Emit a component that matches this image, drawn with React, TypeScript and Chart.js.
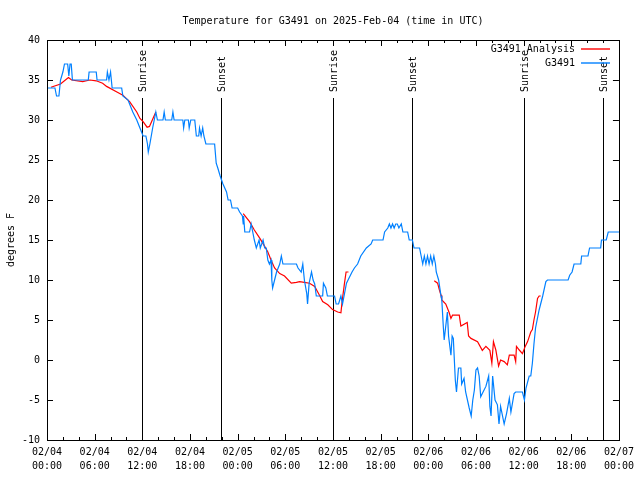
import { useEffect, useRef } from 'react';
import { Chart, registerables } from 'chart.js';

Chart.register(...registerables);

// Hours since 2025-02-04 00:00 UTC, temperature in degrees F
const stationSeries: [number, number][] = [
  [0, 34], [1.0, 34], [1.2, 33], [1.5, 33], [1.7, 35], [2.0, 36], [2.2, 37], [2.6, 37], [2.75, 35.5], [2.9, 37],
  [3.05, 37], [3.2, 35], [5.2, 35], [5.3, 36], [6.2, 36], [6.3, 35], [7.5, 35], [7.6, 36], [7.8, 35], [8.0, 36],
  [8.2, 34], [9.4, 34], [9.55, 33], [10.2, 32.5], [10.8, 31], [11.3, 30], [11.7, 29], [12.1, 28], [12.45, 28],
  [12.65, 27], [12.75, 26], [12.95, 27], [13.3, 29], [13.7, 31], [13.9, 30], [14.6, 30], [14.75, 31], [14.9, 30],
  [15.7, 30], [15.85, 31], [16.0, 30], [17.1, 30], [17.2, 29], [17.35, 30], [17.8, 30], [17.9, 29], [18.1, 30],
  [18.6, 30], [18.8, 28], [19.1, 28], [19.2, 29], [19.4, 28], [19.6, 29], [19.75, 28], [20.0, 27], [21.1, 27],
  [21.3, 24.6], [21.5, 24], [21.8, 23], [22.15, 22], [22.6, 21], [22.8, 20], [23.1, 20], [23.3, 19], [24.0, 19],
  [24.25, 18.5], [24.6, 18], [24.7, 17], [24.75, 18], [24.9, 16], [25.5, 16], [25.7, 17], [25.9, 16], [26.1, 15],
  [26.35, 14], [26.7, 15], [26.85, 14], [27.2, 15], [27.4, 14], [27.6, 14], [27.8, 12.5], [28.0, 12], [28.2, 12.5],
  [28.3, 10], [28.4, 9], [28.65, 10], [28.9, 11], [29.3, 12], [29.5, 13], [29.7, 12], [31.4, 12], [31.6, 11.5],
  [32.0, 11], [32.2, 12], [32.4, 10], [32.7, 8.3], [32.8, 7], [33.0, 9.6], [33.3, 11], [33.5, 10], [33.7, 9.5],
  [33.9, 8], [34.7, 8], [34.8, 9.6], [35.1, 9], [35.3, 8], [36.2, 8], [36.4, 7], [36.7, 7], [37.0, 8], [37.2, 7],
  [37.7, 9.6], [37.9, 10], [38.4, 11], [38.7, 11.5], [39.1, 12], [39.5, 13], [40.2, 14], [40.8, 14.5], [41.0, 15],
  [42.3, 15], [42.5, 16], [42.9, 16.5], [43.1, 17], [43.3, 16.5], [43.5, 17], [43.7, 16.5], [43.9, 17], [44.1, 17],
  [44.3, 16.5], [44.6, 17], [44.8, 16], [45.4, 16], [45.6, 15], [46.0, 15], [46.2, 14], [46.9, 14], [47.1, 13],
  [47.3, 12], [47.5, 13], [47.7, 12], [47.9, 13], [48.1, 12], [48.3, 13], [48.5, 12], [48.7, 13], [48.9, 12],
  [49.0, 11], [49.3, 10], [49.6, 8], [49.7, 7.5], [49.9, 4], [50.0, 2.5], [50.4, 6], [50.55, 3], [50.85, 0.6],
  [51.0, 3], [51.15, 2.7], [51.4, -2.5], [51.55, -4], [51.8, -1], [52.1, -1], [52.2, -3], [52.5, -2.3], [52.7, -4],
  [53.15, -6], [53.4, -7], [53.6, -5], [53.8, -3.75], [54.0, -1.25], [54.2, -1], [54.4, -2], [54.6, -4.6],
  [54.8, -4.2], [55.25, -3.3], [55.6, -2], [55.75, -5.8], [55.9, -7], [56.1, -2], [56.4, -5], [56.7, -5.6],
  [56.9, -8], [57.1, -5.8], [57.55, -8], [57.85, -6.7], [58.2, -4.8], [58.4, -6.5], [58.8, -4.2], [59.0, -4],
  [59.85, -4], [60.1, -5], [60.3, -3.5], [60.7, -2], [60.9, -2], [61.1, -0.4], [61.3, 2], [61.5, 4], [61.95, 6.25],
  [62.4, 8], [62.8, 9.8], [63.0, 10], [65.6, 10], [65.8, 10.6], [66.1, 11], [66.35, 12], [67.2, 12], [67.3, 13],
  [68.1, 13], [68.3, 14], [69.7, 14], [69.8, 15], [70.4, 15], [70.65, 16], [72, 16],
];

// null separates the three analysis segments
const analysisSeries: ([number, number] | null)[] = [
  [0.5, 34.1], [1.7, 34.5], [2.7, 35.3], [3.1, 35], [4.5, 34.8], [5.4, 35], [6.2, 34.9], [7.0, 34.6], [7.5, 34.2],
  [8.8, 33.5], [9.55, 33.1], [10.4, 32.3], [11.3, 31], [11.7, 30.2], [12.1, 29.8], [12.6, 29.1], [12.9, 29.2],
  [13.7, 31],
  null,
  [24.7, 18.3], [25.5, 17.3], [26.1, 16.25], [26.8, 15.2], [27.4, 14.2], [27.8, 13.5], [28.2, 12.5], [28.65, 11.5],
  [29.3, 10.8], [29.9, 10.5], [30.75, 9.6], [31.4, 9.7], [31.8, 9.8], [32.4, 9.7], [33.05, 9.6], [33.7, 9.2],
  [34.3, 8.1], [34.7, 7.3], [35.35, 6.9], [35.95, 6.3], [36.6, 6.0], [37.0, 5.9], [37.15, 7.3], [37.45, 9.6],
  [37.65, 11], [37.95, 11],
  null,
  [48.75, 9.9], [49.17, 9.6], [49.4, 8.75], [49.6, 8.1], [49.7, 7.5], [50.2, 7.0], [50.6, 6.0], [50.85, 5.2],
  [51.05, 5.6], [51.9, 5.6], [52.1, 4.25], [52.9, 4.7], [53.07, 3.0], [53.37, 2.7], [54.2, 2.3], [54.8, 1.2],
  [55.25, 1.7], [55.75, 1.2], [56.0, -0.4], [56.2, 2.3], [56.5, 1.25], [56.85, -0.75], [57.1, 0], [57.55, -0.2],
  [57.95, -0.6], [58.2, 0.6], [58.8, 0.6], [59.0, -0.2], [59.1, 1.7], [59.45, 1.25], [59.85, 0.8], [60.2, 1.7],
  [60.5, 2.3], [60.9, 3.5], [61.1, 3.8], [61.3, 5], [61.5, 6], [61.75, 7.7], [61.95, 8], [62.15, 8],
];

const sunriseHours = [11.95, 35.95, 60.0];
const sunsetHours = [21.9, 45.95, 70.0];

const xTickDates = ['02/04', '02/04', '02/04', '02/04', '02/05', '02/05', '02/05', '02/05', '02/06', '02/06', '02/06', '02/06', '02/07'];
const xTickTimes = ['00:00', '06:00', '12:00', '18:00', '00:00', '06:00', '12:00', '18:00', '00:00', '06:00', '12:00', '18:00', '00:00'];

const TITLE = 'Temperature for G3491 on 2025-Feb-04 (time in UTC)';
const Y_TITLE = 'degrees F';
const ANALYSIS_LABEL = 'G3491 Analysis';
const STATION_LABEL = 'G3491';

const FONT_FAMILY = '"DejaVu Sans Mono", "Liberation Mono", monospace';
const FONT = `10px ${FONT_FAMILY}`;
const RED = '#ff0000';
const BLUE = '#0080ff';

const gnuplotPlugin = {
  id: 'gnuplotFrame',
  beforeDatasetsDraw(chart: any) {
    const { ctx, chartArea, scales } = chart;
    const x = scales.x;
    ctx.save();
    ctx.strokeStyle = '#000';
    ctx.lineWidth = 1;
    ctx.fillStyle = '#000';
    ctx.font = FONT;
    const events: [number, string][] = [
      ...sunriseHours.map((h) => [h, 'Sunrise'] as [number, string]),
      ...sunsetHours.map((h) => [h, 'Sunset'] as [number, string]),
    ];
    for (const [h, label] of events) {
      const px = Math.round(x.getPixelForValue(h)) + 0.5;
      ctx.beginPath();
      ctx.moveTo(px, chartArea.top + 58);
      ctx.lineTo(px, chartArea.bottom);
      ctx.stroke();
      ctx.save();
      ctx.translate(px + 1, chartArea.top + 52);
      ctx.rotate(-Math.PI / 2);
      ctx.textAlign = 'left';
      ctx.textBaseline = 'middle';
      ctx.fillText(label, 0, 0);
      ctx.restore();
    }
    ctx.restore();
  },
  afterDatasetsDraw(chart: any) {
    const { ctx, chartArea, scales } = chart;
    const { left, right, top, bottom } = chartArea;
    const x = scales.x;
    const y = scales.y;
    ctx.save();
    ctx.strokeStyle = '#000';
    ctx.lineWidth = 1;
    // border
    ctx.strokeRect(Math.round(left) + 0.5, Math.round(top) + 0.5, Math.round(right - left), Math.round(bottom - top));
    // x ticks (major every 6 h, minor every 2 h), inward on bottom and top
    ctx.beginPath();
    for (let h = 0; h <= 72; h += 2) {
      const px = Math.round(x.getPixelForValue(h)) + 0.5;
      const len = h % 6 === 0 ? 6 : 3;
      ctx.moveTo(px, bottom);
      ctx.lineTo(px, bottom - len);
      ctx.moveTo(px, top);
      ctx.lineTo(px, top + len);
    }
    // y ticks
    for (let v = -10; v <= 40; v += 5) {
      const py = Math.round(y.getPixelForValue(v)) + 0.5;
      ctx.moveTo(left, py);
      ctx.lineTo(left + 6, py);
      ctx.moveTo(right, py);
      ctx.lineTo(right - 6, py);
    }
    ctx.stroke();

    ctx.fillStyle = '#000';
    ctx.font = FONT;
    // title
    ctx.textAlign = 'center';
    ctx.textBaseline = 'middle';
    ctx.fillText(TITLE, (left + right) / 2, 21);
    // y title
    ctx.save();
    ctx.translate(11, (top + bottom) / 2);
    ctx.rotate(-Math.PI / 2);
    ctx.fillText(Y_TITLE, 0, 0);
    ctx.restore();
    // legend
    ctx.textAlign = 'right';
    const legendItems: [string, string, number][] = [
      [ANALYSIS_LABEL, RED, 49],
      [STATION_LABEL, BLUE, 63],
    ];
    for (const [label, color, ly] of legendItems) {
      ctx.fillStyle = '#000';
      ctx.fillText(label, 575, ly);
      ctx.strokeStyle = color;
      ctx.lineWidth = 1.4;
      ctx.beginPath();
      ctx.moveTo(581, ly);
      ctx.lineTo(610, ly);
      ctx.stroke();
    }
    ctx.restore();
  },
};

export default function App() {
  const canvasRef = useRef<HTMLCanvasElement | null>(null);

  useEffect(() => {
    document.body.style.margin = '0';
    const canvas = canvasRef.current;
    if (!canvas) return;
    const chart = new Chart(canvas, {
      type: 'line',
      data: {
        datasets: [
          {
            label: STATION_LABEL,
            data: stationSeries.map(([h, t]) => ({ x: h, y: t })),
            borderColor: BLUE,
            borderWidth: 1.2,
            pointRadius: 0,
            tension: 0,
            fill: false,
          },
          {
            label: ANALYSIS_LABEL,
            data: analysisSeries.map((p) => (p ? { x: p[0], y: p[1] } : { x: NaN, y: null })) as any,
            borderColor: RED,
            borderWidth: 1.2,
            pointRadius: 0,
            tension: 0,
            fill: false,
            spanGaps: false,
          },
        ],
      },
      options: {
        responsive: false,
        devicePixelRatio: 1,
        animation: false,
        events: [],
        layout: { padding: { top: 40, right: 20, left: 0, bottom: 0 } },
        plugins: {
          legend: { display: false },
          tooltip: { enabled: false },
          title: { display: false },
        },
        scales: {
          x: {
            type: 'linear',
            min: 0,
            max: 72,
            grid: { display: false, drawTicks: false },
            border: { display: false },
            ticks: {
              stepSize: 6,
              autoSkip: false,
              maxRotation: 0,
              minRotation: 0,
              padding: 6,
              color: '#000',
              font: { family: FONT_FAMILY, size: 10, lineHeight: 1.35 },
              callback: (v: any) => {
                const i = Math.round(Number(v) / 6);
                return [xTickDates[i], xTickTimes[i]];
              },
            },
            afterFit: (scale: any) => {
              scale.height = 40;
            },
          },
          y: {
            type: 'linear',
            min: -10,
            max: 40,
            grid: { display: false, drawTicks: false },
            border: { display: false },
            ticks: {
              stepSize: 5,
              padding: 7,
              color: '#000',
              font: { family: FONT_FAMILY, size: 10 },
            },
            afterFit: (scale: any) => {
              scale.width = 47;
            },
          },
        },
      },
      plugins: [gnuplotPlugin],
    });
    return () => {
      chart.destroy();
    };
  }, []);

  return <canvas ref={canvasRef} width={640} height={480} style={{ display: 'block' }} />;
}
